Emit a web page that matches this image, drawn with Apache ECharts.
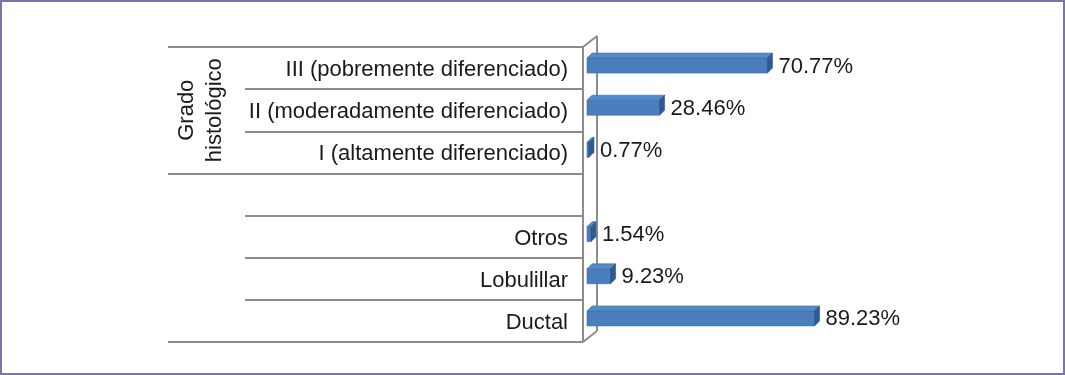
<!DOCTYPE html>
<html>
<head>
<meta charset="utf-8">
<script src="https://cdn.jsdelivr.net/npm/echarts@6/dist/echarts.min.js"></script>
<style>
html,body{margin:0;padding:0;background:#fff;}
#c{width:1065px;height:375px;}
</style>
</head>
<body>
<div id="c"></div>
<script>
// Categories listed bottom to top
const categories = ['Ductal', 'Lobulillar', 'Otros', '', 'I (altamente diferenciado)', 'II (moderadamente diferenciado)', 'III (pobremente diferenciado)'];
const values = [89.23, 9.23, 1.54, null, 0.77, 28.46, 70.77];
const groupLabel = 'Grado\nhistológico';
const groupBoundaries = [0, 4, 7];
const rowBoundaries = [1, 2, 3, 5, 6];
const groupLabelPos = [5.5];

const FONT = '"Liberation Sans", Arial, sans-serif';
const chart = echarts.init(document.getElementById('c'), null, {renderer: 'canvas'});

const barData = [];
values.forEach((v, i) => { if (v != null) barData.push([v, i]); });

const option = {
  animation: false,
  backgroundColor: '#fff',
  graphic: [{
    type: 'rect', silent: true,
    shape: {x: 1, y: 1, width: 1063, height: 373},
    style: {fill: 'none', stroke: '#7d74a6', lineWidth: 2}
  }],
  grid: {left: 587, top: 47, width: 255, height: 295},
  xAxis: {type: 'value', min: 0, max: 100, show: false},
  yAxis: [{
    type: 'category', data: categories, position: 'left',
    axisLine: {show: false},
    axisTick: {show: false},
    axisLabel: {interval: 0, margin: 19, fontSize: 22, color: '#1a1a1a', fontFamily: FONT,
      formatter: v => '{a|' + v + '}',
      rich: {a: {fontSize: 22, color: '#1a1a1a', fontFamily: FONT, padding: [4, 0, 0, 0]}}}
  }, {
    type: 'value', min: 0, max: 7, position: 'left', offset: 4,
    axisLine: {show: false}, splitLine: {show: false},
    axisTick: {show: true, customValues: groupBoundaries, length: 415, lineStyle: {color: '#8c8c8c', width: 2}},
    axisLabel: {customValues: groupLabelPos, formatter: () => groupLabel, rotate: 90, margin: 354,
      fontSize: 22, lineHeight: 28, color: '#1a1a1a', fontFamily: FONT}
  }, {
    type: 'value', min: 0, max: 7, position: 'left', offset: 4,
    axisLine: {show: false}, splitLine: {show: false},
    axisTick: {show: true, customValues: rowBoundaries, length: 338, lineStyle: {color: '#8c8c8c', width: 2}},
    axisLabel: {show: false}
  }],
  series: [{
    type: 'custom', z: 1, silent: true,
    data: [[0, 0]],
    renderItem: function (params, api) {
      const cs = params.coordSys;
      const fx = cs.x - 4, bx = fx + 14, dy = 11;
      const t = cs.y, b = cs.y + cs.height;
      const st = {stroke: '#8c8c8c', lineWidth: 2, fill: null};
      return {type: 'group', children: [
        {type: 'line', shape: {x1: fx, y1: t, x2: fx, y2: b}, style: st},
        {type: 'line', shape: {x1: bx, y1: t - dy, x2: bx, y2: b - dy}, style: st},
        {type: 'line', shape: {x1: fx, y1: t, x2: bx, y2: t - dy}, style: st},
        {type: 'line', shape: {x1: fx, y1: b, x2: bx, y2: b - dy}, style: st}
      ]};
    }
  }, {
    type: 'custom', z: 5, silent: true,
    encode: {x: 0, y: 1},
    data: barData,
    renderItem: function (params, api) {
      const v = api.value(0), ci = api.value(1);
      const p0 = api.coord([0, ci]), p1 = api.coord([v, ci]);
      const c = p0[1];
      const x0 = p0[0], x1 = p1[0];
      const top = c - 10, bot = c + 5, dx = 5, dy = 5;
      return {type: 'group', children: [
        {type: 'rect', shape: {x: x0, y: top, width: x1 - x0, height: bot - top},
          style: {fill: '#4a7ebd', stroke: '#3f6fa8', lineWidth: 0.6}},
        {type: 'polygon', shape: {points: [[x0, top], [x0 + dx, top - dy], [x1 + dx, top - dy], [x1, top]]},
          style: {fill: '#5689c8', stroke: '#3f6fa8', lineWidth: 0.6}},
        {type: 'polygon', shape: {points: [[x1, top], [x1 + dx, top - dy], [x1 + dx, bot - dy], [x1, bot]]},
          style: {fill: '#2f5b90', stroke: '#2a5284', lineWidth: 0.6}},
        {type: 'text', style: {x: x1 + 11, y: (top + bot) / 2 + 1, text: v.toFixed(2) + '%',
          fontSize: 22, fontFamily: FONT, fill: '#1a1a1a', verticalAlign: 'middle', align: 'left'}}
      ]};
    }
  }]
};
chart.setOption(option);
</script>
</body>
</html>
